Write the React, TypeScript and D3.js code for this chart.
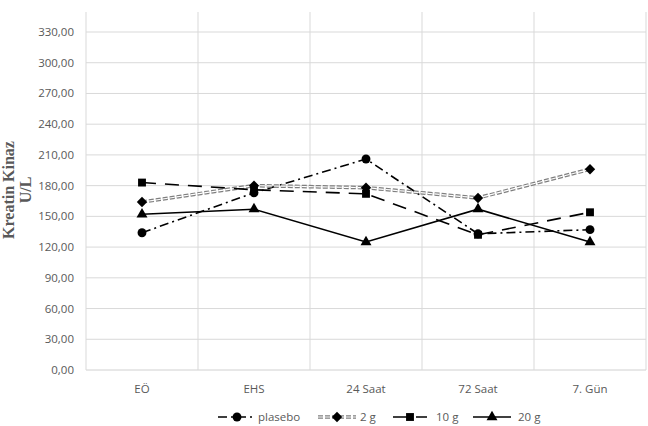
import React from "react";
import * as d3 from "d3";

const categories = ["EÖ", "EHS", "24 Saat", "72 Saat", "7. Gün"];
const plasebo = [134, 173, 206, 133, 137];
const g2 = [164, 180, 178, 168, 196];
const g10 = [183, 176, 172, 132, 154];
const g20 = [152, 157, 125, 157, 125];
const yTicks = [0, 30, 60, 90, 120, 150, 180, 210, 240, 270, 300, 330];
const seriesNames = ["plasebo", "2 g", "10 g", "20 g"];

const W = 648, H = 426;
const left = 86, right = 646, top = 32, bottom = 370;

type S = { name: string; data: number[]; marker: string; dash: string; compound?: boolean };

export default function App() {
  const x = d3.scaleBand<string>().domain(categories).range([left, right]);
  const y = d3.scaleLinear().domain([0, 330]).range([bottom, top]);
  const cx = (c: string) => (x(c) as number) + x.bandwidth() / 2;
  const series: S[] = [
    { name: seriesNames[0], data: plasebo, marker: "circle", dash: "9,4,2,4" },
    { name: seriesNames[1], data: g2, marker: "diamond", dash: "5,2", compound: true },
    { name: seriesNames[2], data: g10, marker: "square", dash: "14,9" },
    { name: seriesNames[3], data: g20, marker: "triangle", dash: "" },
  ];
  const line = d3.line<number>().x((_, i) => cx(categories[i])).y((d) => y(d));
  const sym = (m: string) => {
    if (m === "diamond") return "M0,-5.2L5.2,0L0,5.2L-5.2,0Z";
    const t = m === "circle" ? d3.symbolCircle : m === "square" ? d3.symbolSquare : d3.symbolTriangle;
    const size = m === "circle" ? 62 : m === "square" ? 62 : 52;
    return d3.symbol().type(t).size(size)() as string;
  };
  const legendX = [218, 318, 393, 473];
  const legendTextX = [258, 360, 436, 518];
  const ly = 417;
  const font = "'Open Sans', 'Noto Sans', sans-serif";
  return (
    <svg width={W} height={H} style={{ position: "absolute", left: 0, top: 0, background: "#fff" }}>
      {yTicks.map((t) => (
        <g key={t}>
          <line x1={left} x2={right} y1={y(t)} y2={y(t)} stroke={t === 0 ? "#d0d0d0" : "#d9d9d9"} strokeWidth={1} />
          <text x={74} y={y(t)} dy="0.35em" textAnchor="end" fontSize={11.5} fontFamily={font} fill="#595959">
            {d3.format(".2f")(t).replace(".", ",")}
          </text>
        </g>
      ))}
      {[...categories.map((c) => x(c) as number), right].map((v, i) => (
        <line key={i} x1={v} x2={v} y1={12} y2={bottom} stroke="#d9d9d9" strokeWidth={1} />
      ))}
      {categories.map((c) => (
        <text key={c} x={cx(c)} y={389} dy="0.35em" textAnchor="middle" fontSize={11.5} fontFamily={font} fill="#595959">
          {c}
        </text>
      ))}
      <text transform="translate(18,190) rotate(-90)" textAnchor="middle" fontFamily="'Liberation Serif', serif" fontWeight="bold" fontSize={16} fill="#595959">
        <tspan x={0} dy="-0.25em">Kreatin Kinaz</tspan>
        <tspan x={0} dy="1.05em">U/L</tspan>
      </text>
      {series.map((s) => (
        <g key={s.name}>
          {s.compound ? (
            <>
              <path d={line(s.data) as string} fill="none" stroke="#7f7f7f" strokeWidth={3.6} strokeDasharray={s.dash} />
              <path d={line(s.data) as string} fill="none" stroke="#fff" strokeWidth={1.2} strokeDasharray={s.dash} />
            </>
          ) : (
            <path d={line(s.data) as string} fill="none" stroke="#000" strokeWidth={1.6} strokeDasharray={s.dash} />
          )}
          {s.data.map((v, i) => (
            <path key={i} d={sym(s.marker)} transform={`translate(${cx(categories[i])},${y(v)})`} fill="#000" />
          ))}
        </g>
      ))}
      {series.map((s, i) => (
        <g key={s.name}>
          {s.compound ? (
            <>
              <line x1={legendX[i]} x2={legendX[i] + 38} y1={ly} y2={ly} stroke="#7f7f7f" strokeWidth={3.6} strokeDasharray={s.dash} />
              <line x1={legendX[i]} x2={legendX[i] + 38} y1={ly} y2={ly} stroke="#fff" strokeWidth={1.2} strokeDasharray={s.dash} />
            </>
          ) : (
            <line x1={legendX[i]} x2={legendX[i] + (i === 2 ? 34 : 38)} y1={ly} y2={ly} stroke="#000" strokeWidth={1.6} strokeDasharray={s.dash} />
          )}
          <path d={sym(s.marker)} transform={`translate(${legendX[i] + (i === 2 ? 17 : 19)},${ly})`} fill="#000" />
          <text x={legendTextX[i]} y={ly} dy="0.35em" fontSize={11.5} fontFamily={font} fill="#595959">
            {s.name}
          </text>
        </g>
      ))}
    </svg>
  );
}
